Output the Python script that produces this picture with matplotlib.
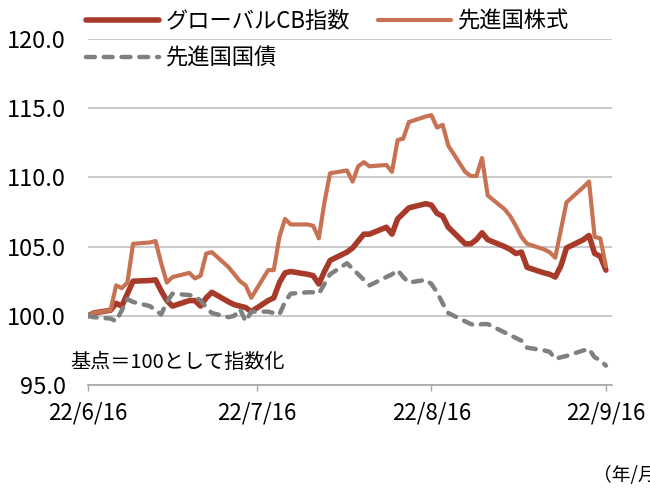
import pandas as pd
import matplotlib
matplotlib.use("Agg")
import matplotlib.pyplot as plt
from matplotlib.ticker import FormatStrFormatter

plt.rcParams["font.family"] = ["Noto Sans CJK JP", "DejaVu Sans"]

# business days, 2022/6/16 - 2022/9/16
dates = pd.to_datetime([
    "2022-06-16", "2022-06-17", "2022-06-20", "2022-06-21", "2022-06-22", "2022-06-23", "2022-06-24",
    "2022-06-27", "2022-06-28", "2022-06-29", "2022-06-30", "2022-07-01",
    "2022-07-04", "2022-07-05", "2022-07-06", "2022-07-07", "2022-07-08",
    "2022-07-11", "2022-07-12", "2022-07-13", "2022-07-14", "2022-07-15",
    "2022-07-18", "2022-07-19", "2022-07-20", "2022-07-21", "2022-07-22",
    "2022-07-25", "2022-07-26", "2022-07-27", "2022-07-28", "2022-07-29",
    "2022-08-01", "2022-08-02", "2022-08-03", "2022-08-04", "2022-08-05",
    "2022-08-08", "2022-08-09", "2022-08-10", "2022-08-11", "2022-08-12",
    "2022-08-15", "2022-08-16", "2022-08-17", "2022-08-18", "2022-08-19",
    "2022-08-22", "2022-08-23", "2022-08-24", "2022-08-25", "2022-08-26",
    "2022-08-29", "2022-08-30", "2022-08-31", "2022-09-01", "2022-09-02",
    "2022-09-05", "2022-09-06", "2022-09-07", "2022-09-08", "2022-09-09",
    "2022-09-12", "2022-09-13", "2022-09-14", "2022-09-15", "2022-09-16",
])

global_cb = [
    100.0, 100.2, 100.4, 100.9, 100.7, 101.6, 102.5,
    102.55, 102.6, 101.8, 101.1, 100.7,
    101.1, 101.1, 100.7, 101.3, 101.7,
    101.0, 100.8, 100.7, 100.6, 100.3,
    101.1, 101.3, 102.4, 103.1, 103.2,
    103.0, 102.9, 102.3, 103.2, 104.0,
    104.6, 104.9, 105.4, 105.9, 105.9,
    106.4, 105.9, 107.0, 107.4, 107.8,
    108.1, 108.0, 107.4, 107.2, 106.4,
    105.2, 105.2, 105.5, 106.0, 105.5,
    105.0, 104.8, 104.5, 104.6, 103.5,
    103.1, 103.0, 102.8, 103.6, 104.9,
    105.5, 105.8, 104.5, 104.3, 103.3,
]

dm_equity = [
    100.0, 100.2, 100.4, 102.2, 102.0, 102.4, 105.2,
    105.3, 105.4, 103.8, 102.4, 102.8,
    103.1, 102.7, 102.9, 104.5, 104.6,
    103.5, 103.0, 102.5, 102.2, 101.3,
    103.3, 103.3, 105.7, 107.0, 106.6,
    106.6, 106.5, 105.6, 108.2, 110.3,
    110.5, 109.7, 110.8, 111.1, 110.8,
    110.9, 110.4, 112.7, 112.8, 114.0,
    114.4, 114.5, 113.6, 113.8, 112.3,
    110.4, 110.1, 110.1, 111.4, 108.7,
    107.7, 107.2, 106.5, 105.7, 105.2,
    104.8, 104.6, 104.2, 106.2, 108.2,
    109.3, 109.7, 105.7, 105.6, 103.6,
]

dm_bond = [
    100.0, 99.9, 99.8, 99.6, 100.4, 101.2, 101.0,
    100.7, 100.4, 100.1, 101.0, 101.6,
    101.5, 101.4, 101.1, 100.6, 100.2,
    99.9, 100.0, 100.5, 99.6, 100.3,
    100.3, 100.2, 100.1, 101.0, 101.6,
    101.7, 101.7, 101.6, 102.3, 103.0,
    103.8, 103.4, 103.0, 102.6, 102.2,
    102.8, 103.0, 103.3, 102.8, 102.4,
    102.6, 102.3, 101.7, 100.9, 100.2,
    99.6, 99.4, 99.3, 99.4, 99.4,
    98.8, 98.6, 98.4, 98.2, 97.7,
    97.5, 97.4, 96.9, 97.0, 97.1,
    97.5, 97.6, 97.0, 96.8, 96.4,
]

labels = ["グローバルCB指数", "先進国国債", "先進国株式"]
tick_dates = pd.to_datetime(["2022-06-16", "2022-07-16", "2022-08-16", "2022-09-16"])
tick_labels = ["22/6/16", "22/7/16", "22/8/16", "22/9/16"]

fig = plt.figure(figsize=(6.5, 4.88), dpi=100)
ax = fig.add_axes([88 / 650, 1 - 385 / 488, 524 / 650, 346 / 488])

l_cb, = ax.plot(dates, global_cb, color="#A83A2A", lw=4.0, solid_joinstyle="round",
                solid_capstyle="round", zorder=3)
l_eq, = ax.plot(dates, dm_equity, color="#C87254", lw=3.0, solid_joinstyle="round",
                solid_capstyle="round", zorder=4)
l_bd, = ax.plot(dates, dm_bond, color="#808080", lw=3.2, ls=(0, (2.0, 2.0)),
                dash_capstyle="round", dash_joinstyle="round", zorder=5)

ax.set_ylim(95, 120)
ax.set_yticks([95, 100, 105, 110, 115, 120])
ax.yaxis.set_major_formatter(FormatStrFormatter("%.1f"))
ax.set_xlim(pd.Timestamp("2022-06-16"), pd.Timestamp("2022-09-17 02:00"))
ax.set_xticks(tick_dates)
ax.set_xticklabels(tick_labels)

ax.grid(axis="y", color="#C0C0C0", lw=1.2)
ax.set_axisbelow(True)
for s in ["left", "right", "top"]:
    ax.spines[s].set_visible(False)
ax.spines["bottom"].set_color("#A6A6A6")
ax.spines["bottom"].set_linewidth(1.2)
ax.tick_params(axis="y", length=0, pad=16, labelsize=17)
ax.tick_params(axis="x", length=4.5, width=1.0, color="#A6A6A6", pad=7.5, labelsize=16)

ax.text(-0.034, 0.066, "基点＝100として指数化", transform=ax.transAxes,
        fontsize=14.5, ha="left", va="center")
fig.text(593 / 650, 1 - 475 / 488, "（年/月）", fontsize=13.5, ha="left", va="center")

leg = ax.legend([l_cb, l_bd, l_eq], labels, ncol=2, frameon=False, loc="upper left",
                bbox_to_anchor=(86 / 650, 1 - 10 / 488), bbox_transform=fig.transFigure,
                fontsize=16, handlelength=3.3, handletextpad=0.3, columnspacing=1.23,
                labelspacing=0.62, borderpad=0, borderaxespad=0)

fig.savefig("out.png", dpi=100)
